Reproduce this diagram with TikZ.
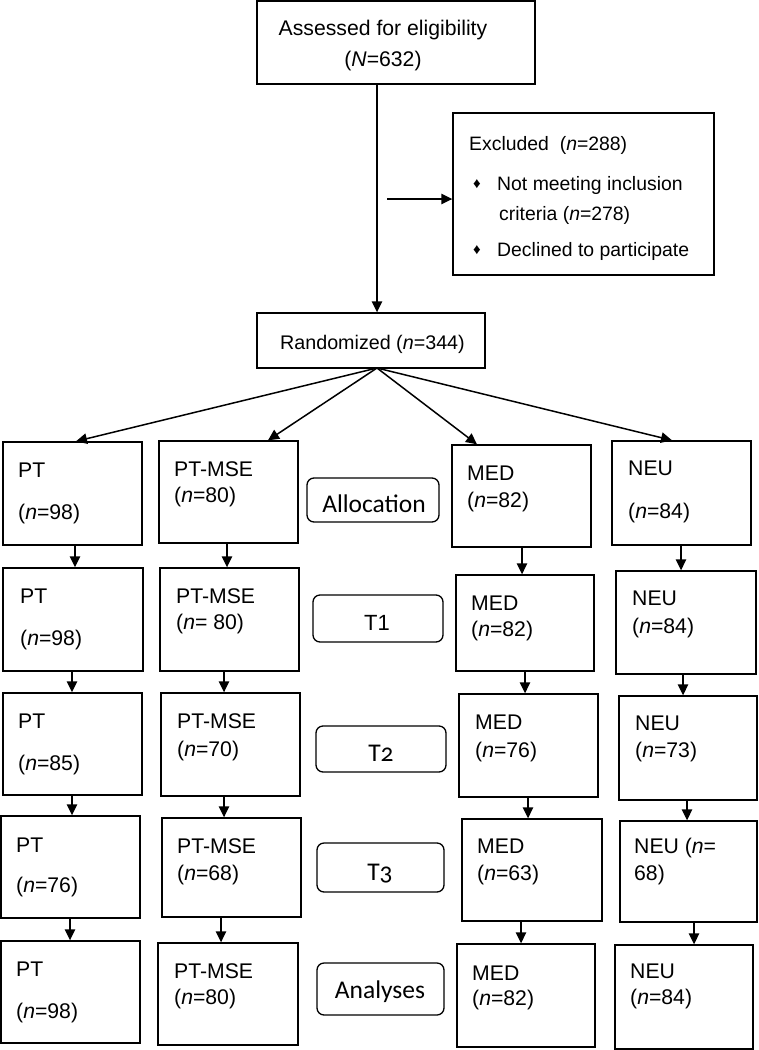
\documentclass[tikz,border=0pt]{standalone}
\usepackage{fontspec}
\setmainfont{Liberation Sans}
\newfontfamily\cand{Carlito}[Numbers=OldStyle]
\usetikzlibrary{arrows.meta}
\tikzset{
  box/.style={draw, line width=1.4pt, inner sep=0pt, rectangle},
  tag/.style={draw, line width=1.3pt, rounded corners=7pt, inner sep=0pt, rectangle},
  lbl/.style={inner sep=0pt, anchor=base west, font=\fontsize{21.2}{25}\selectfont},
  slbl/.style={inner sep=0pt, anchor=base west, font=\fontsize{19.4}{23}\selectfont},
  clbl/.style={inner sep=0pt, anchor=base, font=\fontsize{21.2}{25}\selectfont},
  tlbl/.style={inner sep=0pt, anchor=base, font=\cand\fontsize{25.5}{30}\selectfont},
  arr/.style={line width=1.5pt, -{Triangle[length=11pt,width=10.5pt]}},
}
\newcommand\mkbox[6][box]{\node[#1, minimum width={(#5-#3)*1pt}, minimum height={(#6-#4)*1pt}] (#2) at ({(#3+#5)/2},{(#4+#6)/2}) {};}
\newcommand\putt[4]{\node[lbl] (#1) at (#2,#3) {#4};}
\newcommand\down[3]{\draw[arr] (#1,0 |- #2.south) -- (#1,0 |- #3.north);}
\begin{document}
\begin{tikzpicture}[x=1pt,y=-1pt]
\useasboundingbox (0,0) rectangle (759,1050);
% top
\mkbox{elig}{257}{1}{535}{84}
\node[clbl] (elig1) at (383,35) {Assessed for eligibility};
\node[clbl] (elig2) at (383,66) {(\textit{N}=632)};
% excluded
\mkbox{excl}{453}{113}{714}{275}
\node[slbl] (ex0) at (469,150) {Excluded\ \ (\textit{n}=288)};
\node[lbl, font=\fontsize{15}{16}\selectfont] (b1) at (473,188) {♦};
\node[slbl] (ex1) at (497,190) {Not meeting inclusion};
\node[slbl] (ex2) at (499,220) {criteria (\textit{n}=278)};
\node[lbl, font=\fontsize{15}{16}\selectfont] (b2) at (473,254) {♦};
\node[slbl] (ex3) at (497,256) {Declined to participate};
% randomized
\mkbox{rand}{257}{313}{485}{368}
\node[slbl, font=\fontsize{19.7}{23}\selectfont] (rt) at (280,349) {Randomized (\textit{n}=344)};
\draw[arr] (377,0 |- elig.south) -- (377,0 |- rand.north);
\coordinate (exs) at (387,199);
\draw[arr] (exs) -- (excl.west |- exs);
\coordinate (apex) at (377,368);
% row 1
\mkbox{pt1}{3}{442}{142}{545}
\putt{pt1a}{18}{477}{PT}\putt{pt1b}{18}{519}{(\textit{n}=98)}
\mkbox{ms1}{159}{441}{298}{543}
\putt{ms1a}{174}{476}{PT-MSE}\putt{ms1b}{174}{502}{(\textit{n}=80)}
\mkbox{me1}{452}{445}{591}{547}
\putt{me1a}{467}{480}{MED}\putt{me1b}{467}{507}{(\textit{n}=82)}
\mkbox{ne1}{612}{441}{751}{545}
\putt{ne1a}{628}{475}{NEU}\putt{ne1b}{628}{518}{(\textit{n}=84)}
\draw[arr] (apex) -- (76,0 |- pt1.north);
\draw[arr] (apex) -- (268,0 |- ms1.north);
\draw[arr] (apex) -- (477,0 |- me1.north);
\draw[arr] (apex) -- (672,0 |- ne1.north);
\mkbox[tag]{alloc}{307}{478}{439}{522}
\node[tlbl] (alloct) at (374,512) {Allocation};
% row 2
\mkbox{pt2}{3}{568}{143}{671}
\putt{pt2a}{20}{603}{PT}\putt{pt2b}{20}{645}{(\textit{n}=98)}
\mkbox{ms2}{160}{568}{299}{671}
\putt{ms2a}{176}{603}{PT-MSE}\putt{ms2b}{176}{629}{(\textit{n}= 80)}
\mkbox{me2}{456}{575}{594}{671}
\putt{me2a}{471}{610}{MED}\putt{me2b}{471}{636}{(\textit{n}=82)}
\mkbox{ne2}{616}{571}{756}{674}
\putt{ne2a}{632}{605}{NEU}\putt{ne2b}{632}{633}{(\textit{n}=84)}
\down{75}{pt1}{pt2}\down{227}{ms1}{ms2}\down{522}{me1}{me2}\down{681}{ne1}{ne2}
\mkbox[tag]{t1}{313}{595}{443}{642}
\node[clbl, font=\fontsize{22}{26}\selectfont] (t1t) at (377,630) {T1};
% row 3
\mkbox{pt3}{3}{693}{142}{795}
\putt{pt3a}{18}{728}{PT}\putt{pt3b}{18}{770}{(\textit{n}=85)}
\mkbox{ms3}{161}{693}{300}{796}
\putt{ms3a}{177}{728}{PT-MSE}\putt{ms3b}{177}{756}{(\textit{n}=70)}
\mkbox{me3}{459}{694}{598}{797}
\putt{me3a}{475}{729}{MED}\putt{me3b}{475}{757}{(\textit{n}=76)}
\mkbox{ne3}{619}{696}{757}{800}
\putt{ne3a}{635}{730}{NEU}\putt{ne3b}{635}{757}{(\textit{n}=73)}
\down{72}{pt2}{pt3}\down{224}{ms2}{ms3}\down{525}{me2}{me3}\down{683}{ne2}{ne3}
\mkbox[tag]{t2}{316}{726}{446}{772}
\node[tlbl] (t2t) at (381,761) {T2};
% row 4
\mkbox{pt4}{1}{816}{140}{918}
\putt{pt4a}{16}{852}{PT}\putt{pt4b}{16}{892}{(\textit{n}=76)}
\mkbox{ms4}{162}{818}{301}{917}
\putt{ms4a}{177}{853}{PT-MSE}\putt{ms4b}{177}{880}{(\textit{n}=68)}
\mkbox{me4}{462}{819}{602}{921}
\putt{me4a}{477}{853}{MED}\putt{me4b}{477}{880}{(\textit{n}=63)}
\mkbox{ne4}{620}{821}{757}{922}
\putt{ne4a}{634}{853}{NEU (\textit{n}=}\putt{ne4b}{634}{880}{68)}
\down{72}{pt3}{pt4}\down{224}{ms3}{ms4}\down{528}{me3}{me4}\down{687}{ne3}{ne4}
\mkbox[tag]{t3}{317}{843}{444}{892}
\node[tlbl] (t3t) at (380,880) {T3};
% row 5
\mkbox{pt5}{1}{941}{140}{1043}
\putt{pt5a}{16}{976}{PT}\putt{pt5b}{16}{1018}{(\textit{n}=98)}
\mkbox{ms5}{158}{943}{298}{1045}
\putt{ms5a}{174}{978}{PT-MSE}\putt{ms5b}{174}{1004}{(\textit{n}=80)}
\mkbox{me5}{457}{944}{595}{1047}
\putt{me5a}{472}{980}{MED}\putt{me5b}{472}{1005}{(\textit{n}=82)}
\mkbox{ne5}{615}{945}{753}{1049}
\putt{ne5a}{630}{978}{NEU}\putt{ne5b}{630}{1004}{(\textit{n}=84)}
\down{70}{pt4}{pt5}\down{221}{ms4}{ms5}\down{521}{me4}{me5}\down{694}{ne4}{ne5}
\mkbox[tag]{an}{317}{963}{444}{1015}
\node[tlbl] (ant) at (380,998) {Analyses};
\end{tikzpicture}
\end{document}
